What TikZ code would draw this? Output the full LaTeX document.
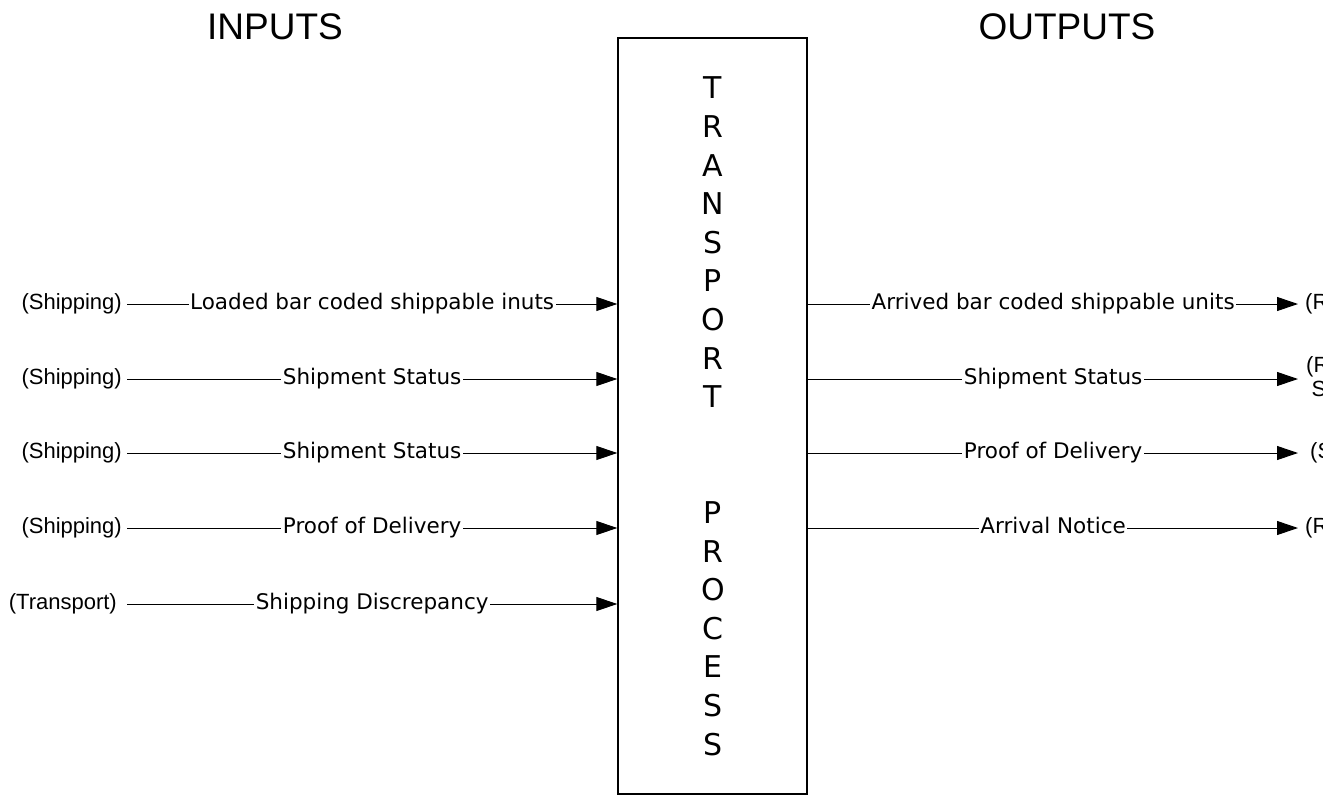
\documentclass[tikz,border=0pt]{standalone}
\usepackage{fontspec}
\setmainfont{DejaVu Sans}
\newfontfamily\arialf{Liberation Sans}
\usetikzlibrary{arrows.meta}
\begin{document}
\begin{tikzpicture}[x=1pt,y=-1pt,
  flow/.style={line width=1pt,-{Triangle[length=21pt,width=14pt]}},
  lbl/.style={fill=white,inner sep=1.5pt,text height=16pt,text depth=5pt,
              font=\fontsize{21.5}{24}\selectfont},
  ext/.style={font=\arialf\fontsize{22}{24}\selectfont,inner sep=0pt},
  head/.style={font=\arialf\fontsize{37}{40}\selectfont,inner sep=0pt,anchor=base}]
\useasboundingbox (0,0) rectangle (1339,796);
\fill[white] (0,0) rectangle (1339,796);
\clip (0,0) rectangle (1322,796);

\node[draw,line width=2pt,minimum width=189pt,minimum height=755.7pt,inner sep=0pt,
      align=center,font=\fontsize{30}{38.6}\selectfont] (tp) at (712.8,416.2)
  {T\\R\\A\\N\\S\\P\\O\\R\\T\\~\\~\\P\\R\\O\\C\\E\\S\\S};

\node[head] (hin) at (275,39) {INPUTS};
\node[head] (hout) at (1067,39) {OUTPUTS};

% inputs
\node[ext,anchor=east] (s1) at (122,304) {(Shipping)};
\node[ext,anchor=east] (s2) at (122,379) {(Shipping)};
\node[ext,anchor=east] (s3) at (122,453) {(Shipping)};
\node[ext,anchor=east] (s4) at (122,528) {(Shipping)};
\node[ext,anchor=east] (s5) at (117,604) {(Transport)};
\coordinate (a1) at (127,304);
\coordinate (a2) at (127,379);
\coordinate (a3) at (127,453);
\coordinate (a4) at (127,528);
\coordinate (a5) at (127,604);
\draw[flow] (a1) -- (a1 -| tp.west) node[midway,lbl] {Loaded bar coded shippable inuts};
\draw[flow] (a2) -- (a2 -| tp.west) node[midway,lbl] {Shipment Status};
\draw[flow] (a3) -- (a3 -| tp.west) node[midway,lbl] {Shipment Status};
\draw[flow] (a4) -- (a4 -| tp.west) node[midway,lbl] {Proof of Delivery};
\draw[flow] (a5) -- (a5 -| tp.west) node[midway,lbl] {Shipping Discrepancy};

% outputs
\coordinate (b1) at (1298,304);
\coordinate (b2) at (1298,379);
\coordinate (b3) at (1298,453);
\coordinate (b4) at (1298,528);
\draw[flow] (b1 -| tp.east) -- (b1) node[midway,lbl] {Arrived bar coded shippable units};
\draw[flow] (b2 -| tp.east) -- (b2) node[midway,lbl] {Shipment Status};
\draw[flow] (b3 -| tp.east) -- (b3) node[midway,lbl] {Proof of Delivery};
\draw[flow] (b4 -| tp.east) -- (b4) node[midway,lbl] {Arrival Notice};
\node[ext,anchor=west] (d1) at (1305,304) {(Receiving)};
\node[ext,anchor=west,align=center] (d2) at (1306,379) {(Receiving\\Shipping)};
\node[ext,anchor=west] (d3) at (1310,453) {(Shipping)};
\node[ext,anchor=west] (d4) at (1305,528) {(Receiving)};
\end{tikzpicture}
\end{document}
